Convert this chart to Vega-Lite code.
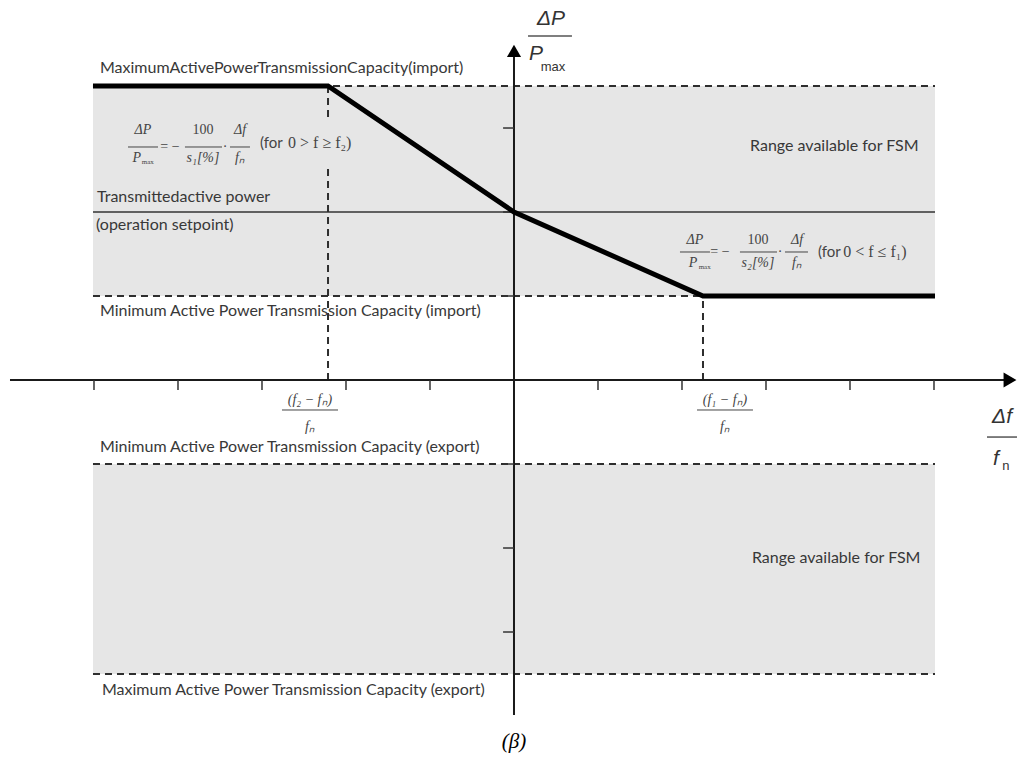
{
  "$schema": "https://vega.github.io/schema/vega-lite/v6.json",
  "width": 1019,
  "height": 758,
  "autosize": {"type": "fit", "contains": "padding"},
  "padding": 0,
  "background": "white",
  "config": {"view": {"stroke": null}},
  "datasets": {
    "bands": [
      {"x": -5.012, "x2": 5.012, "y": 1, "y2": 3.5},
      {"x": -5.012, "x2": 5.012, "y": -3.5, "y2": -1}
    ],
    "setpoint": [{"x": -5.012, "x2": 5.012, "y": 2}],
    "dashH": [
      {"x": -5.012, "x2": 5.012, "y": 3.5},
      {"x": -5.012, "x2": 2.25, "y": 1},
      {"x": -5.012, "x2": 5.012, "y": -1},
      {"x": -5.012, "x2": 5.012, "y": -3.5}
    ],
    "dashV": [
      {"x": -2.214, "y": 3.131, "y2": 3.5},
      {"x": -2.214, "y": 0, "y2": 2.524},
      {"x": 2.25, "y": 0, "y2": 1}
    ],
    "response": [
      {"x": -5.012, "y": 3.5},
      {"x": -2.214, "y": 3.5},
      {"x": 0, "y": 2},
      {"x": 2.25, "y": 1},
      {"x": 5.012, "y": 1}
    ],
    "axisX": [{"x": -6.0, "x2": 5.9, "y": 0}],
    "axisY": [{"x": 0, "y": -3.988, "y2": 3.9}],
    "arrowX": [{"x": 5.905, "y": 0}],
    "arrowY": [{"x": 0, "y": 3.917}],
    "ticksX": [
      {"x": -5, "y": 0, "y2": -0.12}, {"x": -4, "y": 0, "y2": -0.12},
      {"x": -3, "y": 0, "y2": -0.12}, {"x": -2, "y": 0, "y2": -0.12},
      {"x": -1, "y": 0, "y2": -0.12}, {"x": 1, "y": 0, "y2": -0.12},
      {"x": 2, "y": 0, "y2": -0.12}, {"x": 3, "y": 0, "y2": -0.12},
      {"x": 4, "y": 0, "y2": -0.12}, {"x": 5, "y": 0, "y2": -0.12}
    ],
    "ticksY": [
      {"x": -0.13, "x2": 0, "y": 3}, {"x": -0.13, "x2": 0, "y": 2},
      {"x": -0.13, "x2": 0, "y": 1}, {"x": -0.13, "x2": 0, "y": -1},
      {"x": -0.13, "x2": 0, "y": -2}, {"x": -0.13, "x2": 0, "y": -3}
    ],
    "labels": [
      {"x": -4.929, "y": 3.714, "text": "MaximumActivePowerTransmissionCapacity(import)"},
      {"x": -4.964, "y": 2.179, "text": "Transmittedactive power"},
      {"x": -4.976, "y": 1.845, "text": "(operation setpoint)"},
      {"x": -4.929, "y": 0.821, "text": "Minimum Active Power Transmission Capacity (import)"},
      {"x": -4.929, "y": -0.798, "text": "Minimum Active Power Transmission Capacity (export)"},
      {"x": -4.905, "y": -3.69, "text": "Maximum Active Power Transmission Capacity (export)"},
      {"x": 2.81, "y": 2.786, "text": "Range available for FSM"},
      {"x": 2.833, "y": -2.119, "text": "Range available for FSM"}
    ],
    "mathItalic": [
      {"x": -4.417, "y": 2.976, "text": "ΔP"},
      {"x": -4.49, "y": 2.643, "text": "P"},
      {"x": -3.262, "y": 2.976, "text": "Δf"},
      {"x": -3.262, "y": 2.643, "text": "fₙ"},
      {"x": -3.702, "y": 2.643, "text": "s₁[%]"},
      {"x": 2.155, "y": 1.667, "text": "ΔP"},
      {"x": 2.13, "y": 1.393, "text": "P"},
      {"x": 3.369, "y": 1.667, "text": "Δf"},
      {"x": 3.369, "y": 1.393, "text": "fₙ"},
      {"x": 2.905, "y": 1.393, "text": "s₂[%]"},
      {"x": -2.429, "y": -0.238, "text": "(f₂ − fₙ)"},
      {"x": -2.429, "y": -0.56, "text": "fₙ"},
      {"x": 2.512, "y": -0.238, "text": "(f₁ − fₙ)"},
      {"x": 2.512, "y": -0.56, "text": "fₙ"}
    ],
    "mathUpright": [
      {"x": -4.095, "y": 2.774, "text": "= −"},
      {"x": -3.702, "y": 2.976, "text": "100"},
      {"x": -3.44, "y": 2.774, "text": "·"},
      {"x": 2.452, "y": 1.524, "text": "= −"},
      {"x": 2.905, "y": 1.667, "text": "100"},
      {"x": 3.167, "y": 1.524, "text": "·"}
    ],
    "mathSub": [
      {"x": -4.36, "y": 2.595, "text": "max"},
      {"x": 2.27, "y": 1.345, "text": "max"}
    ],
    "conditionWord": [
      {"x": -3.024, "y": 2.821, "text": "(for"},
      {"x": 3.619, "y": 1.524, "text": "(for"}
    ],
    "conditions": [
      {"x": -2.69, "y": 2.821, "text": "0 > f ≥ f₂)"},
      {"x": 3.92, "y": 1.524, "text": "0 < f ≤ f₁)"}
    ],
    "fracBars": [
      {"x": -4.595, "x2": -4.238, "y": 2.774},
      {"x": -3.917, "x2": -3.476, "y": 2.774},
      {"x": -3.381, "x2": -3.143, "y": 2.774},
      {"x": 1.976, "x2": 2.333, "y": 1.524},
      {"x": 2.69, "x2": 3.131, "y": 1.524},
      {"x": 3.226, "x2": 3.5, "y": 1.524},
      {"x": -2.762, "x2": -2.095, "y": -0.357},
      {"x": 2.179, "x2": 2.845, "y": -0.357}
    ],
    "titleBars": [
      {"x": 0.167, "x2": 0.69, "y": 4.095},
      {"x": 5.631, "x2": 5.988, "y": -0.679}
    ],
    "titleMain": [
      {"x": 0.44, "y": 4.298, "text": "ΔP"},
      {"x": 0.262, "y": 3.881, "text": "P"},
      {"x": 5.81, "y": -0.44, "text": "Δf"},
      {"x": 5.738, "y": -0.94, "text": "f"}
    ],
    "titleSub": [
      {"x": 0.464, "y": 3.726, "text": "max"},
      {"x": 5.857, "y": -1.024, "text": "n"}
    ],
    "caption": [{"x": 0, "y": -4.31, "text": "(β)"}]
  },
  "encoding": {
    "x": {"field": "x", "type": "quantitative", "scale": {"domain": [-6.119, 6.012], "nice": false, "zero": false}, "axis": null},
    "y": {"field": "y", "type": "quantitative", "scale": {"domain": [-4.5, 4.524], "nice": false, "zero": false}, "axis": null}
  },
  "layer": [
    {
      "data": {"name": "bands"},
      "mark": {"type": "rect", "color": "#e6e6e6"},
      "encoding": {"x2": {"field": "x2"}, "y2": {"field": "y2"}}
    },
    {
      "data": {"name": "setpoint"},
      "mark": {"type": "rule", "color": "#333333", "strokeWidth": 1.6},
      "encoding": {"x2": {"field": "x2"}}
    },
    {
      "data": {"name": "dashH"},
      "mark": {"type": "rule", "color": "#2e2e2e", "strokeWidth": 2, "strokeDash": [7, 5]},
      "encoding": {"x2": {"field": "x2"}}
    },
    {
      "data": {"name": "dashV"},
      "mark": {"type": "rule", "color": "#2e2e2e", "strokeWidth": 2, "strokeDash": [7, 5]},
      "encoding": {"y2": {"field": "y2"}}
    },
    {
      "data": {"name": "axisX"},
      "mark": {"type": "rule", "color": "#1a1a1a", "strokeWidth": 2},
      "encoding": {"x2": {"field": "x2"}}
    },
    {
      "data": {"name": "axisY"},
      "mark": {"type": "rule", "color": "#1a1a1a", "strokeWidth": 2},
      "encoding": {"y2": {"field": "y2"}}
    },
    {
      "data": {"name": "ticksX"},
      "mark": {"type": "rule", "color": "#333333", "strokeWidth": 1.5},
      "encoding": {"y2": {"field": "y2"}}
    },
    {
      "data": {"name": "ticksY"},
      "mark": {"type": "rule", "color": "#333333", "strokeWidth": 1.5},
      "encoding": {"x2": {"field": "x2"}}
    },
    {
      "data": {"name": "response"},
      "mark": {"type": "line", "color": "#000000", "strokeWidth": 5, "strokeJoin": "miter"},
      "encoding": {}
    },
    {
      "data": {"name": "arrowX"},
      "mark": {"type": "point", "shape": "triangle-right", "filled": true, "color": "#000000", "size": 220, "opacity": 1},
      "encoding": {}
    },
    {
      "data": {"name": "arrowY"},
      "mark": {"type": "point", "shape": "triangle-up", "filled": true, "color": "#000000", "size": 200, "opacity": 1},
      "encoding": {}
    },
    {
      "data": {"name": "labels"},
      "mark": {"type": "text", "font": "Lato", "fontSize": 16, "color": "#383838", "align": "left", "baseline": "middle"},
      "encoding": {"text": {"field": "text"}}
    },
    {
      "data": {"name": "fracBars"},
      "mark": {"type": "rule", "color": "#444444", "strokeWidth": 1},
      "encoding": {"x2": {"field": "x2"}}
    },
    {
      "data": {"name": "mathItalic"},
      "mark": {"type": "text", "font": "Liberation Serif", "fontSize": 14, "fontStyle": "italic", "color": "#444444", "align": "center", "baseline": "middle"},
      "encoding": {"text": {"field": "text"}}
    },
    {
      "data": {"name": "mathUpright"},
      "mark": {"type": "text", "font": "Liberation Serif", "fontSize": 14, "color": "#444444", "align": "center", "baseline": "middle"},
      "encoding": {"text": {"field": "text"}}
    },
    {
      "data": {"name": "mathSub"},
      "mark": {"type": "text", "font": "Liberation Serif", "fontSize": 7, "color": "#444444", "align": "center", "baseline": "middle"},
      "encoding": {"text": {"field": "text"}}
    },
    {
      "data": {"name": "conditionWord"},
      "mark": {"type": "text", "font": "Lato", "fontSize": 15, "color": "#444444", "align": "left", "baseline": "middle"},
      "encoding": {"text": {"field": "text"}}
    },
    {
      "data": {"name": "conditions"},
      "mark": {"type": "text", "font": "Liberation Serif", "fontSize": 16, "color": "#444444", "align": "left", "baseline": "middle"},
      "encoding": {"text": {"field": "text"}}
    },
    {
      "data": {"name": "titleBars"},
      "mark": {"type": "rule", "color": "#555555", "strokeWidth": 1.5},
      "encoding": {"x2": {"field": "x2"}}
    },
    {
      "data": {"name": "titleMain"},
      "mark": {"type": "text", "font": "Liberation Sans", "fontSize": 21, "fontStyle": "italic", "color": "#333333", "align": "center", "baseline": "middle"},
      "encoding": {"text": {"field": "text"}}
    },
    {
      "data": {"name": "titleSub"},
      "mark": {"type": "text", "font": "Liberation Sans", "fontSize": 13, "color": "#333333", "align": "center", "baseline": "middle"},
      "encoding": {"text": {"field": "text"}}
    },
    {
      "data": {"name": "caption"},
      "mark": {"type": "text", "font": "Liberation Serif", "fontSize": 21, "fontStyle": "italic", "color": "#000000", "align": "center", "baseline": "middle"},
      "encoding": {"text": {"field": "text"}}
    }
  ]
}
